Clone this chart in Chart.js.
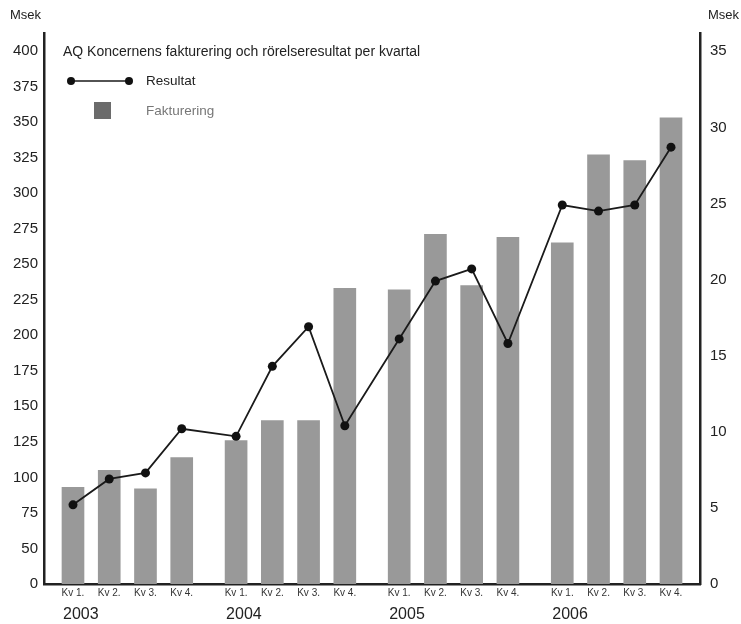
<!DOCTYPE html>
<html>
<head>
<meta charset="utf-8">
<title>AQ Koncernens fakturering och rörelseresultat per kvartal</title>
<script src="https://cdn.jsdelivr.net/npm/chart.js@4.4.1/dist/chart.umd.min.js"></script>
<style>
  html, body { margin: 0; padding: 0; background: #fff; }
  #wrap { width: 741px; height: 624px; }
</style>
</head>
<body>
<div id="wrap"><canvas id="aqChart"></canvas></div>
<script>
// Data
const chartTitle = 'AQ Koncernens fakturering och rörelseresultat per kvartal';
const years = ['2003', '2004', '2005', '2006'];
const quarters = ['Kv 1.', 'Kv 2.', 'Kv 3.', 'Kv 4.'];
const fakturering = [93, 105, 92, 114, 126, 140, 140, 233, 232, 271, 235, 269, 265, 327, 323, 353];
const resultat = [5.2, 6.9, 7.3, 10.2, 9.7, 14.3, 16.9, 10.4, 16.1, 19.9, 20.7, 15.8, 24.9, 24.5, 24.9, 28.7];
const leftTickValues = [25, 50, 75, 100, 125, 150, 175, 200, 225, 250, 275, 300, 325, 350, 375, 400];
const leftTickLabels = ['0', '50', '75', '100', '125', '150', '175', '200', '225', '250', '275', '300', '325', '350', '375', '400'];
const rightTicks = [0, 5, 10, 15, 20, 25, 30, 35];

// slot positions: quarters side by side, half a slot extra between years
const yearGap = 0.5;
const xPos = fakturering.map((v, i) => i + Math.floor(i / 4) * yearGap);
const yearPos = years.map((y, i) => i * (4 + yearGap));

const font = '"Liberation Sans", Arial, sans-serif';
const xMin = -0.8, xMax = 17.3;

// Msek labels, title and legend
const headerPlugin = {
    id: 'header',
    afterDraw(chart) {
        const ctx = chart.ctx;
        const lineSet = chart.data.datasets[0];
        const barSet = chart.data.datasets[1];
        ctx.save();
        ctx.textBaseline = 'middle';
        ctx.textAlign = 'left';
        ctx.fillStyle = '#222';
        ctx.font = '13px ' + font;
        ctx.fillText('Msek', 10, 15);
        ctx.fillText('Msek', 708, 15);
        ctx.font = '14px ' + font;
        ctx.fillText(chartTitle, 63, 52);

        // Resultat
        ctx.strokeStyle = lineSet.borderColor;
        ctx.lineWidth = 1.5;
        ctx.beginPath();
        ctx.moveTo(71, 81);
        ctx.lineTo(129, 81);
        ctx.stroke();
        ctx.fillStyle = lineSet.pointBackgroundColor;
        [71, 129].forEach(x => {
            ctx.beginPath();
            ctx.arc(x, 81, 4, 0, Math.PI * 2);
            ctx.fill();
        });
        ctx.font = '13.5px ' + font;
        ctx.fillStyle = '#222';
        ctx.fillText(lineSet.label, 146, 81);

        // Fakturering
        ctx.fillStyle = '#6b6b6b';
        ctx.fillRect(94, 102, 17, 17);
        ctx.fillStyle = '#777';
        ctx.fillText(barSet.label, 146, 111);
        ctx.restore();
    }
};

const ctx = document.getElementById('aqChart').getContext('2d');
const aqChart = new Chart(ctx, {
    type: 'bar',
    data: {
        datasets: [
            {
                type: 'line',
                label: 'Resultat',
                data: xPos.map((x, i) => ({ x: x, y: resultat[i] })),
                yAxisID: 'yR',
                xAxisID: 'x',
                borderColor: '#1a1a1a',
                borderWidth: 1.8,
                pointRadius: 4.5,
                pointBackgroundColor: '#111',
                pointBorderColor: '#111',
                pointBorderWidth: 0,
                tension: 0,
                order: 0,
            },
            {
                label: 'Fakturering',
                data: xPos.map((x, i) => ({ x: x, y: fakturering[i] })),
                yAxisID: 'yL',
                xAxisID: 'x',
                backgroundColor: '#999999',
                barThickness: 22,
                order: 1,
            },
        ],
    },
    options: {
        responsive: true,
        maintainAspectRatio: false,
        animation: false,
        layout: { padding: { top: 33, left: 0, right: 0, bottom: 0 } },
        plugins: {
            legend: { display: false },
            tooltip: { enabled: false },
        },
        scales: {
            x: {
                type: 'linear',
                position: 'bottom',
                offset: false,
                min: xMin,
                max: xMax,
                grid: { display: false, drawTicks: false, offset: false },
                border: { display: true, color: '#222', width: 2.5 },
                afterBuildTicks: axis => { axis.ticks = xPos.map(v => ({ value: v })); },
                afterFit: scale => { scale.height = 18; },
                ticks: {
                    autoSkip: false,
                    maxRotation: 0,
                    padding: 3,
                    color: '#333',
                    font: { family: font, size: 10 },
                    callback: (v, i) => quarters[i % 4],
                },
            },
            xYear: {
                type: 'linear',
                position: 'bottom',
                offset: false,
                min: xMin,
                max: xMax,
                grid: { display: false, drawTicks: false, offset: false },
                border: { display: false },
                afterBuildTicks: axis => { axis.ticks = yearPos.map(v => ({ value: v })); },
                afterFit: scale => { scale.height = 22; },
                ticks: {
                    autoSkip: false,
                    maxRotation: 0,
                    align: 'start',
                    labelOffset: -10,
                    padding: 3,
                    color: '#222',
                    font: { family: font, size: 16 },
                    callback: (v, i) => years[i],
                },
            },
            yL: {
                type: 'linear',
                position: 'left',
                min: 25,
                max: 412.7,
                grid: { display: false, drawTicks: false },
                border: { display: true, color: '#222', width: 2.5 },
                afterBuildTicks: axis => { axis.ticks = leftTickValues.map(v => ({ value: v })); },
                afterFit: scale => { scale.width = 44; },
                ticks: {
                    padding: 6,
                    color: '#222',
                    font: { family: font, size: 15 },
                    callback: (v, i) => leftTickLabels[i],
                },
            },
            yR: {
                type: 'linear',
                position: 'right',
                min: 0,
                max: 36.2,
                grid: { display: false, drawTicks: false },
                border: { display: true, color: '#222', width: 2.5 },
                afterBuildTicks: axis => { axis.ticks = rightTicks.map(v => ({ value: v })); },
                afterFit: scale => { scale.width = 41; },
                ticks: {
                    padding: 10,
                    color: '#222',
                    font: { family: font, size: 15 },
                    callback: (v, i) => String(rightTicks[i]),
                },
            },
        },
    },
    plugins: [headerPlugin],
});
</script>
</body>
</html>
